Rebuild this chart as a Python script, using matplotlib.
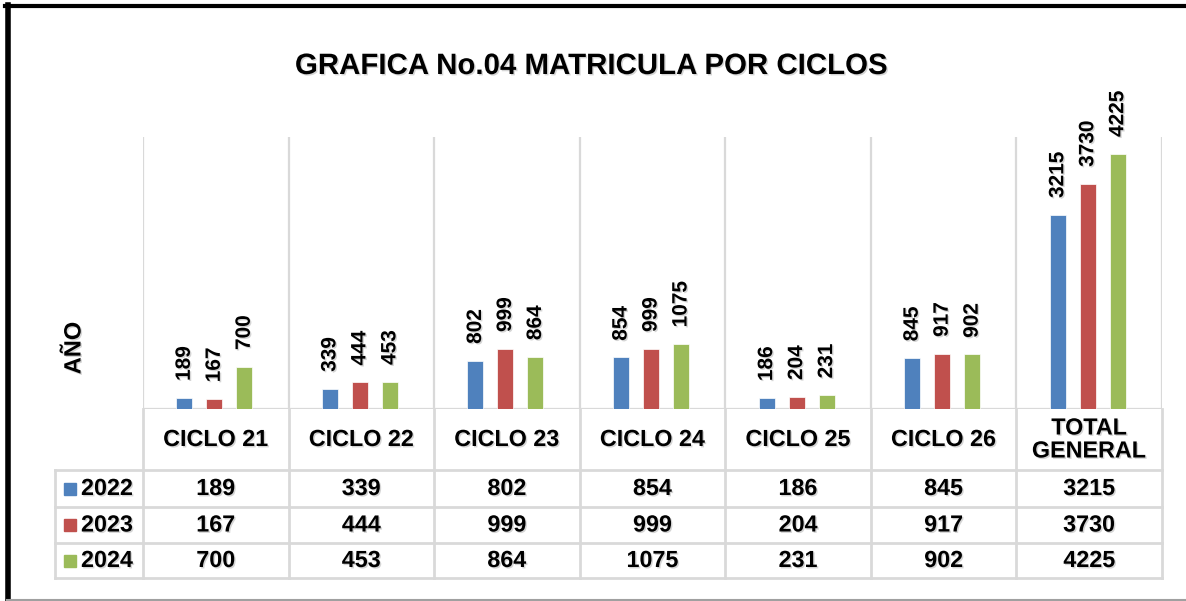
import matplotlib.pyplot as plt
import matplotlib.patheffects as pe
import matplotlib.transforms as mtransforms
from matplotlib.lines import Line2D
from matplotlib.patches import Rectangle

# data
categorias = ['CICLO 21', 'CICLO 22', 'CICLO 23', 'CICLO 24', 'CICLO 25', 'CICLO 26', 'TOTAL\nGENERAL']
anios = ['2022', '2023', '2024']
v2022 = [189, 339, 802, 854, 186, 845, 3215]
v2023 = [167, 444, 999, 999, 204, 917, 3730]
v2024 = [700, 453, 864, 1075, 231, 902, 4225]
series = [v2022, v2023, v2024]
colores = ['#4F81BD', '#C0504D', '#9BBB59']

plt.rcParams['font.family'] = ['Liberation Sans', 'DejaVu Sans']
plt.rcParams['font.weight'] = 'bold'

W, H = 1186, 601
fig = plt.figure(figsize=(W / 100, H / 100), dpi=100)

def fx(px):
    return px / W

def fy(py):
    return 1 - py / H

# shadow like the excel text
sombra = [pe.SimplePatchShadow(offset=(1, -1), shadow_rgbFace='#888888', alpha=0.35), pe.Normal()]
gris = '#D9D9D9'

# plot area
ax = fig.add_axes([fx(143), fy(409), fx(1162) - fx(143), fy(137) - fy(409)])
ax.set_xlim(-0.5, len(categorias) - 0.5)
ax.set_ylim(0, 4500)
for s in ax.spines.values():
    s.set_visible(False)
ax.set_xticks([])
ax.set_yticks([])

for i in range(len(categorias) + 1):
    ax.axvline(i - 0.5, color=gris, lw=1.6, zorder=0)
ax.axhline(0, color=gris, lw=1.6, zorder=0)

x = list(range(len(categorias)))
ancho = 0.11
paso = 0.206
for k, (vals, col) in enumerate(zip(series, colores)):
    pos = [xi + (k - 1) * paso - 0.01 for xi in x]
    barras = ax.bar(pos, vals, width=ancho, color=col, edgecolor='white', linewidth=0.5, zorder=2)
    for b, v in zip(barras, vals):
        ax.annotate(str(v), (b.get_x() + b.get_width() / 2, v), xytext=(0, 12),
                    textcoords='offset points', rotation=90, ha='center', va='bottom',
                    fontsize=15, fontweight='bold', path_effects=sombra)

# title and axis label
fig.text(fx(591), fy(66), 'GRAFICA No.04 MATRICULA POR CICLOS', ha='center', va='center',
         fontsize=21.2, fontweight='bold', path_effects=sombra)
fig.text(fx(74), fy(348), 'AÑO', rotation=90, ha='center', va='center',
         fontsize=17, fontweight='bold', path_effects=sombra)

# data table
trans = mtransforms.blended_transform_factory(ax.transData, fig.transFigure)
filas = [409, 470, 507, 543, 578]

for i in range(len(categorias) + 1):
    fig.add_artist(Line2D([i - 0.5, i - 0.5], [fy(409), fy(578)], transform=trans, color=gris, lw=2))
for py in filas[1:]:
    fig.add_artist(Line2D([fx(55), fx(1162)], [fy(py), fy(py)], color=gris, lw=2))
fig.add_artist(Line2D([fx(55), fx(55)], [fy(470), fy(578)], color=gris, lw=2))

for i, c in enumerate(categorias):
    fig.text(i, fy((409 + 470) / 2), c, transform=trans, ha='center', va='center',
             fontsize=16.8, fontweight='bold', linespacing=1.0, path_effects=sombra)

for r, (anio, vals, col) in enumerate(zip(anios, series, colores)):
    yc = fy((filas[r + 1] + filas[r + 2]) / 2)
    fig.add_artist(Rectangle((fx(64), yc - 6 / H), 12 / W, 12 / H, color=col))
    fig.text(fx(81), yc, anio, ha='left', va='center', fontsize=16.8, fontweight='bold',
             path_effects=sombra)
    for i, v in enumerate(vals):
        fig.text(i, yc, str(v), transform=trans, ha='center', va='center',
                 fontsize=16.8, fontweight='bold', path_effects=sombra)

# frame around the picture
fig.add_artist(Line2D([fx(5), 1], [fy(5.5), fy(5.5)], color='black', lw=3))
fig.add_artist(Line2D([fx(7.5), fx(7.5)], [fy(5), 0], color='black', lw=4))
fig.add_artist(Line2D([fx(7), 1], [fy(599.5), fy(599.5)], color='#A0A0A0', lw=1.5))

fig.savefig('out.png', dpi=100)
